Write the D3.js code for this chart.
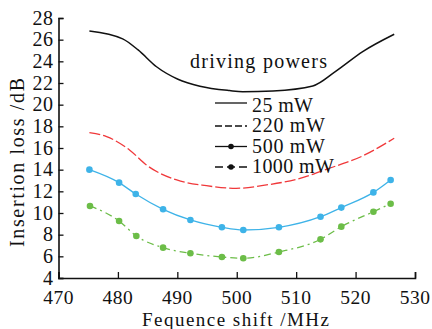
<!DOCTYPE html>
<html>
<head>
  <meta charset="UTF-8">
  <style>
    body { margin: 0; background: #fff; }
    svg { display: block; }
    text { font-family: "Liberation Serif", serif; fill: #111; font-size: 20px; }
  </style>
</head>
<body>
<svg></svg>
<script src="https://d3js.org/d3.v7.min.js"></script>
<script>

let width = 432, height = 329;
let svg = d3.select("svg").attr("width", width).attr("height", height);

// series (x in MHz, y in dB)
const p25x   = [475.2, 480.8, 483.4, 486.5, 490.1, 493.8, 498.8, 501, 506.1, 512.8, 516.7, 521.2, 526.5];
const p25y   = [26.8, 26.07, 25.05, 23.5, 22.35, 21.7, 21.3, 21.2, 21.27, 21.73, 23.1, 24.9, 26.5];
const p220x  = [475.2, 478.1, 482.0, 484.8, 489.9, 494.9, 499.9, 505, 510, 515.6, 521.2, 526.5];
const p220y  = [17.42, 17.05, 15.8, 14.43, 13.05, 12.52, 12.28, 12.59, 13.1, 14.13, 15.27, 16.9];
const p500x  = [475.2, 480.2, 483.0, 487.6, 492.2, 497.5, 501.1, 507.1, 514.1, 517.6, 523.0, 525.9];
const p500y  = [14.0, 12.8, 11.75, 10.34, 9.36, 8.68, 8.43, 8.68, 9.66, 10.5, 11.9, 13.05];
const p1000x = [475.3, 480.2, 483.1, 487.6, 492.2, 497.5, 501.1, 507.1, 514.1, 517.6, 523.0, 525.9];
const p1000y = [10.65, 9.26, 7.88, 6.8, 6.28, 5.94, 5.82, 6.4, 7.57, 8.74, 10.12, 10.86];

const xTicks = [470, 480, 490, 500, 510, 520, 530];
const yTicks = [4, 6, 8, 10, 12, 14, 16, 18, 20, 22, 24, 26, 28];
const legendLabels = ["25 mW", "220 mW", "500 mW", "1000 mW"];

let x = d3.scaleLinear().domain([470, 530]).range([58.5, 415]);
let y = d3.scaleLinear().domain([4, 28]).range([278, 18]);

let series = [
  {xs: p25x, ys: p25y, color: "#111", dash: null, dots: false, w: 1.5},
  {xs: p220x, ys: p220y, color: "#f0383a", dash: "11,3", dots: false, w: 1.3},
  {xs: p500x, ys: p500y, color: "#3eb3e8", dash: null, dots: true, w: 1.3},
  {xs: p1000x, ys: p1000y, color: "#6cbd48", dash: "7,4,2,4", dots: true, w: 1.3}
];

let line = d3.line().x(d => x(d[0])).y(d => y(d[1])).curve(d3.curveMonotoneX);

series.forEach(s => {
  let pts = s.xs.map((v, i) => [v, s.ys[i]]);
  svg.append("path")
    .datum(pts)
    .attr("d", line)
    .attr("fill", "none")
    .attr("stroke", s.color)
    .attr("stroke-width", s.w)
    .attr("stroke-dasharray", s.dash);
  if (s.dots) {
    svg.append("g").selectAll("circle")
      .data(pts).enter().append("circle")
      .attr("cx", d => x(d[0]))
      .attr("cy", d => y(d[1]))
      .attr("r", 3.3)
      .attr("fill", s.color);
  }
});

// axes
let xAxis = svg.append("g")
  .attr("transform", "translate(0," + y(4) + ")")
  .call(d3.axisTop(x).tickValues(xTicks).tickSize(6).tickFormat(""));
let yAxis = svg.append("g")
  .attr("transform", "translate(" + x(470) + ",0)")
  .call(d3.axisRight(y).tickValues(yTicks).tickSize(5).tickFormat(""));
[xAxis, yAxis].forEach(a => {
  a.select(".domain").attr("stroke", "#111").attr("stroke-width", 1.6);
  a.selectAll(".tick line").attr("stroke", "#111").attr("stroke-width", 1.3);
});

svg.append("g").selectAll("text")
  .data(xTicks).enter().append("text")
  .attr("x", d => x(d))
  .attr("y", 304)
  .attr("text-anchor", "middle")
  .style("font-size", "19.5px")
  .style("letter-spacing", "0.5px")
  .text(d => d);

svg.append("g").selectAll("text")
  .data(yTicks).enter().append("text")
  .attr("x", 53.5)
  .attr("y", d => y(d) + 6.5)
  .attr("text-anchor", "end")
  .style("letter-spacing", "0.5px")
  .text(d => d);

svg.append("text")
  .attr("x", 142)
  .attr("y", 326)
  .attr("textLength", 187)
  .attr("lengthAdjust", "spacing")
  .style("font-size", "19px")
  .text("Fequence shift /MHz");

svg.append("text")
  .attr("transform", "translate(24,247) rotate(-90)")
  .attr("textLength", 169)
  .attr("lengthAdjust", "spacing")
  .text("Insertion loss /dB");

// legend
svg.append("text").attr("x", 190).attr("y", 68)
  .attr("textLength", 137).attr("lengthAdjust", "spacing")
  .text("driving powers");

let legW = [61, 73, 73, 82];
let leg = svg.append("g");
legendLabels.forEach((lab, i) => {
  let by = 111.5 + i * 20.5;
  let ly = by - (i == 0 ? 8.5 : 6);
  leg.append("line")
    .attr("x1", 215).attr("x2", 247).attr("y1", ly).attr("y2", ly)
    .attr("stroke", "#111").attr("stroke-width", 1.3)
    .attr("stroke-dasharray", i == 1 ? "7,3" : (i == 3 ? "8,4" : null));
  if (i >= 2) {
    leg.append("circle").attr("cx", 231).attr("cy", ly).attr("r", 2.8).attr("fill", "#111");
  }
  leg.append("text").attr("x", 252).attr("y", by)
    .attr("textLength", legW[i]).attr("lengthAdjust", "spacing")
    .text(lab);
});

</script>
</body>
</html>
